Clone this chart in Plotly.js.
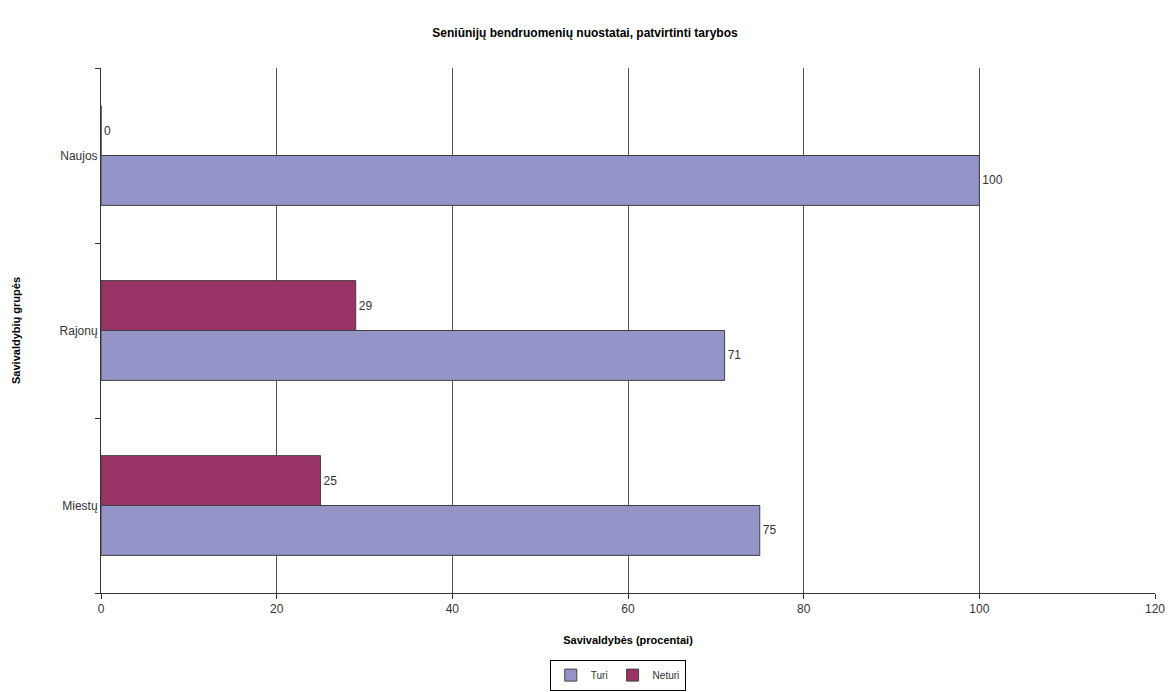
<!DOCTYPE html>
<html><head><meta charset="utf-8">
<script src="https://cdn.plot.ly/plotly-3.0.1.min.js"></script>
<style>body{margin:0;background:#fff}#c{width:1170px;height:692px}</style>
</head><body><div id="c"></div>
<script>
const categories = ["Miestų", "Rajonų", "Naujos"];
const turi = [75, 71, 100];
const neturi = [25, 29, 0];
const seriesNames = ["Turi", "Neturi"];

const lbl = {family: "Arial, Liberation Sans, sans-serif", size: 12, color: "#333"};
const traces = [
  {type: "bar", orientation: "h", name: seriesNames[0], y: categories, x: turi,
   marker: {color: "#9494c8", line: {color: "#404040", width: 1}},
   text: turi.map(String), textposition: "outside", textfont: lbl, cliponaxis: false},
  {type: "bar", orientation: "h", name: seriesNames[1], y: categories, x: neturi,
   marker: {color: "#993366", line: {color: "#404040", width: 1}},
   text: neturi.map(String), textposition: "outside", textfont: lbl, cliponaxis: false}
];
const layout = {
  width: 1170, height: 692,
  margin: {l: 101, r: 15, t: 68, b: 99},
  paper_bgcolor: "#fff", plot_bgcolor: "#fff",
  barmode: "group", bargap: 0.43, bargroupgap: 0,
  font: {family: "Arial, Liberation Sans, sans-serif", size: 12, color: "#333"},
  title: {text: "<b>Seniūnijų bendruomenių nuostatai, patvirtinti tarybos</b>", x: 0.5, xanchor: "center", y: 0.952, yanchor: "middle",
          font: {size: 12, color: "#000"}},
  xaxis: {range: [0, 120], dtick: 20, showgrid: true, gridcolor: "#555", gridwidth: 1, automargin: false,
          showline: true, linecolor: "#333", ticks: "outside", ticklen: 5, tickcolor: "#333",
          zeroline: false, tickfont: {size: 12, color: "#333"},
          title: {text: "<b>Savivaldybės (procentai)</b>", font: {size: 11, color: "#000"}, standoff: 20}},
  yaxis: {showgrid: false, showline: true, linecolor: "#333", ticks: "outside", ticklen: 5, tickcolor: "#333",
          tickson: "boundaries", tickfont: {size: 12, color: "#333"}, automargin: false,
          title: {text: "<b>Savivaldybių grupės</b>", font: {size: 11, color: "#000"}, standoff: 36}},
  showlegend: true,
  legend: {orientation: "h", x: 0.528, xref: "container", xanchor: "center", y: 0.002, yref: "container", yanchor: "bottom",
           bordercolor: "#000", borderwidth: 1, font: {size: 10, color: "#333"}, traceorder: "normal",
           itemwidth: 30, tracegroupgap: 0}
};
Plotly.newPlot("c", traces, layout, {displayModeBar: false});
</script></body></html>
